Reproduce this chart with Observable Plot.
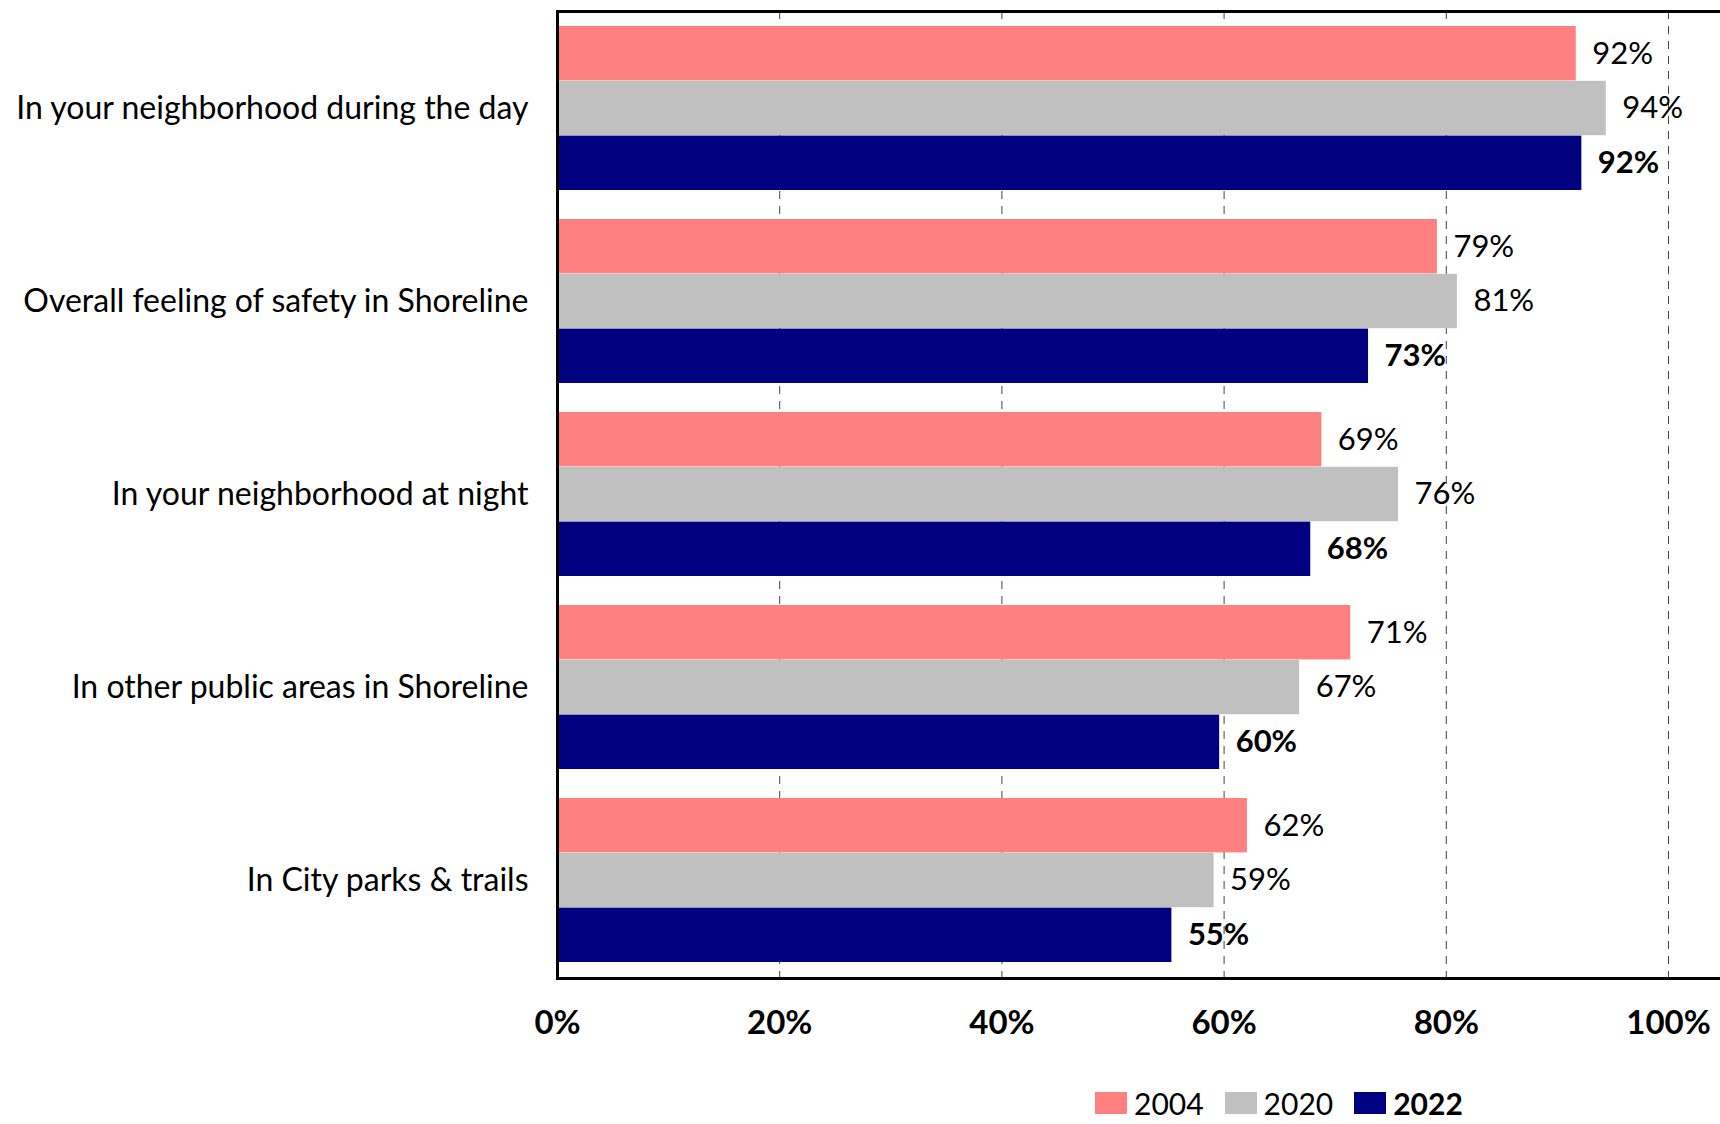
<!DOCTYPE html>
<html>
<head>
<meta charset="utf-8">
<script src="https://cdn.jsdelivr.net/npm/d3@7"></script>
<script src="https://cdn.jsdelivr.net/npm/@observablehq/plot@0.6"></script>
<style>
  html, body { margin: 0; padding: 0; background: #fff; }
  body { width: 1720px; height: 1124px; position: relative; overflow: hidden; font-family: Lato, "Open Sans", sans-serif; }
  #legend { position: absolute; left: 1095px; top: 1088px; display: flex; align-items: center; font-size: 30px; line-height: 30px; color: #000; }
  #legend .item { display: flex; align-items: center; margin-right: 21px; }
  #legend .sw { width: 32px; height: 22px; margin-right: 7px; }
</style>
</head>
<body>
<div id="chart"></div>
<div id="legend"></div>
<script>
const categories = [
  "In your neighborhood during the day",
  "Overall feeling of safety in Shoreline",
  "In your neighborhood at night",
  "In other public areas in Shoreline",
  "In City parks & trails"
];
const years = ["2004", "2020", "2022"];
const values2004 = [91.7, 79.2, 68.8, 71.4, 62.1];
const values2020 = [94.4, 81.0, 75.7, 66.8, 59.1];
const values2022 = [92.2, 73.0, 67.8, 59.6, 55.3];
const xTicks = [0, 20, 40, 60, 80, 100];
const colors = ["#FF8080", "#C0C0C0", "#000080"];

const seriesValues = [values2004, values2020, values2022];
const data = [];
years.forEach((yr, j) => categories.forEach((c, i) => data.push({category: c, year: yr, value: seriesValues[j][i]})));

const width = 1720, height = 1080;
const marginLeft = 557, marginRight = -2, marginTop = 11, marginBottom = 102;
const pxPer100 = 1111;
const xMax = 100 * (width - marginRight - marginLeft) / pxPer100;
const paddingInner = 0.15, paddingOuter = 0.075;
const step = (height - marginTop - marginBottom) / (categories.length - paddingInner + 2 * paddingOuter);
const barH = step * (1 - paddingInner) / years.length;

const marks = [
  Plot.ruleX(xTicks.filter(d => d > 0), {stroke: "#444", strokeWidth: 1, strokeDasharray: "8,7"})
];
years.forEach((yr, j) => {
  const sub = data.filter(d => d.year === yr);
  marks.push(Plot.barX(sub, {
    x: "value", y: "category", fill: colors[j],
    insetTop: j * barH, insetBottom: (years.length - 1 - j) * barH
  }));
  marks.push(Plot.text(sub, {
    x: "value", y: "category", text: d => Math.round(d.value) + "%",
    dx: 16, dy: (j - 1) * barH, textAnchor: "start",
    fontSize: 31, fontWeight: j === 2 ? "bold" : "normal", fill: "#000"
  }));
});
marks.push(Plot.frame({stroke: "#000", strokeWidth: 3}));
marks.push(Plot.axisX(xTicks, {tickSize: 0, tickPadding: 32, tickFormat: d => d + "%", fontSize: 33, fontWeight: "bold", label: null}));
marks.push(Plot.axisY({tickSize: 0, tickPadding: 29, fontSize: 32, label: null}));

const chart = Plot.plot({
  width, height, marginLeft, marginRight, marginTop, marginBottom,
  style: {fontFamily: "Lato, 'Open Sans', sans-serif", color: "#000", background: "#fff", overflow: "visible"},
  x: {domain: [0, xMax]},
  y: {type: "band", domain: categories, paddingInner, paddingOuter},
  marks
});
document.getElementById("chart").appendChild(chart);

const legend = document.getElementById("legend");
years.forEach((yr, j) => {
  const item = document.createElement("div");
  item.className = "item";
  const sw = document.createElement("div");
  sw.className = "sw";
  sw.style.background = colors[j];
  const t = document.createElement("span");
  t.textContent = yr;
  if (j === 2) t.style.fontWeight = "bold";
  item.appendChild(sw); item.appendChild(t);
  legend.appendChild(item);
});
</script>
</body>
</html>
